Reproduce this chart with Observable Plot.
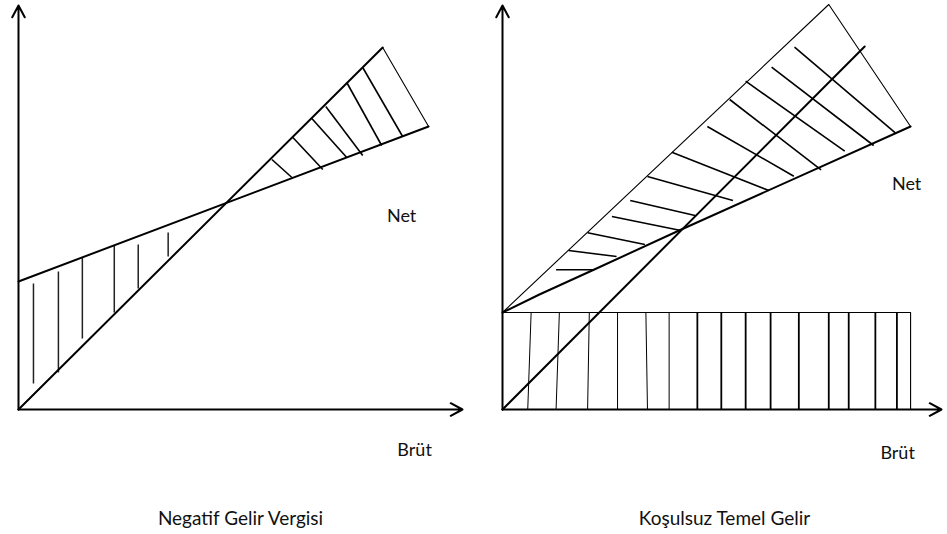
<!DOCTYPE html>
<html>
<head>
<meta charset="utf-8">
<script src="https://cdn.jsdelivr.net/npm/d3@7"></script>
<script src="https://cdn.jsdelivr.net/npm/@observablehq/plot@0.6"></script>
<style>
  html, body { margin: 0; padding: 0; background: #fff; }
  #chart svg { display: block; }
</style>
</head>
<body>
<div id="chart"></div>
<script>
// ---- Data (units: Brüt to the right, Net upward, origin at each panel's axes corner) ----
const captions = ["Negatif Gelir Vergisi", "Koşulsuz Temel Gelir"];
const xLabel = "Brüt";
const yLabel = "Net";
const axisXLength = [445, 440];
const axisYLength = [404, 404];

// Panel 1: Negatif Gelir Vergisi
const ngvGross = [[0, 0], [365, 362]];
const ngvNet = [[0, 128], [411, 283]];
const ngvEdge = [[365, 362], [411, 283]];
// vertical hatching below the net line: [x, top, bottom]
const ngvHatchSubsidy = [[15, 126, 26], [40, 138, 37], [64, 152, 71], [96, 164, 97], [120, 165, 121], [150, 177, 153]];
// slanted hatching above the net line: [x1, y1, x2, y2]
const ngvHatchTax = [[254, 250, 274, 232], [275, 272, 305, 240], [294, 291, 329, 252], [308, 303, 345, 254], [329, 327, 364, 264], [345, 342, 385, 273]];

// Panel 2: Koşulsuz Temel Gelir
const ktgGross = [[0, 0], [363, 363]];
const ktgNet = [[0, 97], [37, 115], [92, 140], [177, 179], [409, 283]];
const ktgUpper = [[0, 97], [327, 405], [409, 283]];
const ktgBasicIncome = [[0, 97], [409, 97], [409, 0]];
// vertical hatching of the basic income band: [x at top, x at bottom]
const ktgBandThin = [[28.7, 25.3], [57, 53.7], [87, 85.3], [115.3, 115.3], [143.7, 145.3], [167, 167]];
const ktgBandThick = [[195.3, 195.3], [219.3, 219.3], [243.7, 243.7], [268.7, 268.7], [297, 297], [327, 327], [347, 347], [373.7, 373.7], [395.3, 395.3]];
const ktgBandTop = 97;
// slanted hatching of the tax wedge: [x1, y1, x2, y2]
const ktgHatchTax = [
  [53.7, 139.7, 92, 139.7], [66.3, 159, 114.3, 153], [85.3, 176.7, 142.7, 165],
  [109.7, 193, 178.7, 179], [128, 209, 193, 194], [145.3, 233, 231, 209],
  [169.7, 257.3, 267, 219], [205.3, 283, 292, 233.3], [227.7, 310, 319.3, 239.7],
  [243.7, 328.3, 343, 258.3], [269.7, 342.3, 372, 264], [292.7, 362.3, 393.7, 276.7]
];

// ---- Build tables ----
const P0 = captions[0], P1 = captions[1];
const pts = (arr, panel, id) => arr.map(([x, y]) => ({panel, id, x, y}));
const segs = (arr, panel) => arr.map(([x1, y1, x2, y2]) => ({panel, x1, y1, x2, y2}));

const axes = captions.flatMap((panel, i) => [
  {panel, x1: 0, y1: 0, x2: 0, y2: axisYLength[i]},
  {panel, x1: 0, y1: 0, x2: axisXLength[i], y2: 0}
]);
const thickLines = [
  ...pts(ngvGross, P0, "g0"), ...pts(ngvNet, P0, "n0"),
  ...pts(ktgGross, P1, "g1"), ...pts(ktgNet, P1, "n1")
];
const thinLines = [
  ...pts(ngvEdge, P0, "e0"),
  ...pts(ktgUpper, P1, "u1"), ...pts(ktgBasicIncome, P1, "b1")
];
const vHatch = ngvHatchSubsidy.map(([x, t, b]) => ({panel: P0, x1: x, y1: t, x2: x, y2: b}));
const bandThin = ktgBandThin.map(([xt, xb]) => ({panel: P1, x1: xt, y1: ktgBandTop, x2: xb, y2: 0}));
const bandThick = ktgBandThick.map(([xt, xb]) => ({panel: P1, x1: xt, y1: ktgBandTop, x2: xb, y2: 0}));
const taxHatch = [...segs(ngvHatchTax, P0), ...segs(ktgHatchTax, P1)];

const labels = [
  {panel: P0, text: yLabel, x: 384, y: 193},
  {panel: P0, text: xLabel, x: 397, y: -41},
  {panel: P1, text: yLabel, x: 405, y: 225},
  {panel: P1, text: xLabel, x: 396, y: -44}
];

const chart = Plot.plot({
  width: 947,
  height: 534,
  marginLeft: 18,
  marginRight: 0,
  marginTop: 5,
  marginBottom: 125,
  style: {fontFamily: "Lato, 'Open Sans', sans-serif", background: "#fff", color: "#000"},
  x: {domain: [0, 445], axis: null},
  y: {domain: [0, 404], axis: null},
  fx: {domain: captions, paddingInner: 0.0825, paddingOuter: 0, axis: null, label: null},
  marks: [
    Plot.link(bandThin, {x1: "x1", y1: "y1", x2: "x2", y2: "y2", fx: "panel", stroke: "#000", strokeWidth: 1}),
    Plot.link(bandThick, {x1: "x1", y1: "y1", x2: "x2", y2: "y2", fx: "panel", stroke: "#000", strokeWidth: 1.8}),
    Plot.link(vHatch, {x1: "x1", y1: "y1", x2: "x2", y2: "y2", fx: "panel", stroke: "#222", strokeWidth: 1.5}),
    Plot.link(taxHatch, {x1: "x1", y1: "y1", x2: "x2", y2: "y2", fx: "panel", stroke: "#000", strokeWidth: 1.6}),
    Plot.line(thinLines, {x: "x", y: "y", z: "id", fx: "panel", stroke: "#000", strokeWidth: 1.1}),
    Plot.line(thickLines, {x: "x", y: "y", z: "id", fx: "panel", stroke: "#000", strokeWidth: 2, curve: "linear"}),
    Plot.arrow(axes, {x1: "x1", y1: "y1", x2: "x2", y2: "y2", fx: "panel", stroke: "#000", strokeWidth: 2, headLength: 10, headAngle: 56}),
    Plot.text(labels, {x: "x", y: "y", text: "text", fx: "panel", fontSize: 18, fill: "#111"}),
    Plot.axisFx({anchor: "bottom", tickSize: 0, tickPadding: 102, fontSize: 19, label: null, color: "#111"})
  ]
});
document.getElementById("chart").appendChild(chart);
</script>
</body>
</html>
